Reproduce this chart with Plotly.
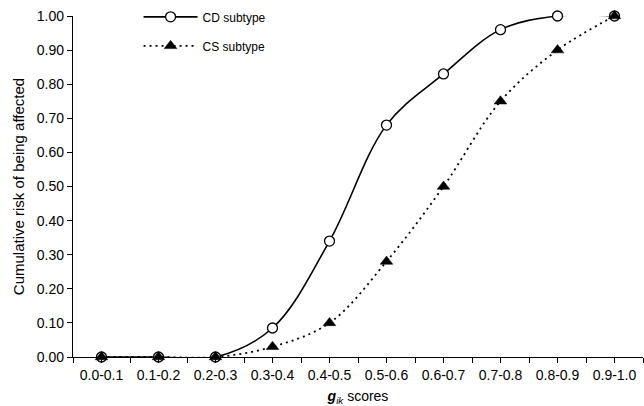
import plotly.graph_objects as go

categories = ["0.0-0.1", "0.1-0.2", "0.2-0.3", "0.3-0.4", "0.4-0.5",
              "0.5-0.6", "0.6-0.7", "0.7-0.8", "0.8-0.9", "0.9-1.0"]
cd_values = [0.0, 0.0, 0.0, 0.085, 0.34, 0.68, 0.83, 0.96, 1.0, 1.0]
cs_values = [0.0, 0.0, 0.0, 0.03, 0.10, 0.28, 0.50, 0.75, 0.90, 1.0]
y_ticks = [0.0, 0.1, 0.2, 0.3, 0.4, 0.5, 0.6, 0.7, 0.8, 0.9, 1.0]

FONT = "Liberation Sans, Arial, sans-serif"

positions = list(range(len(categories)))
# ticks at every half category: boundaries (unlabelled) and centres (labelled)
x_tickvals = []
x_ticktext = []
for i, c in enumerate(categories):
    x_tickvals += [i - 0.5, i]
    x_ticktext += ["", c]
x_tickvals.append(len(categories) - 0.5)
x_ticktext.append("")

fig = go.Figure()
fig.add_trace(go.Scatter(
    x=positions, y=cd_values, name="CD subtype", mode="lines+markers",
    line=dict(color="black", width=1.6, shape="spline", smoothing=1.0),
    marker=dict(symbol="circle", size=10, color="white",
                line=dict(color="black", width=1.3)),
    cliponaxis=False, legendgroup="cd"))
fig.add_trace(go.Scatter(
    x=positions, y=cs_values, name="CS subtype", mode="lines+markers",
    line=dict(color="black", width=1.8, dash="2px,4px", shape="spline", smoothing=1.0),
    marker=dict(symbol="triangle-up", size=11, color="black",
                line=dict(color="black", width=0.5)),
    cliponaxis=False, legendgroup="cs"))

fig.update_layout(
    width=644, height=406,
    margin=dict(l=73, r=1, t=16, b=49),
    paper_bgcolor="white", plot_bgcolor="white",
    font=dict(family=FONT, size=14, color="black"),
    showlegend=True,
    legend=dict(x=0.115, y=1.04, xanchor="left", yanchor="top",
                bgcolor="rgba(0,0,0,0)", font=dict(size=12),
                tracegroupgap=10, itemwidth=54),
    xaxis=dict(range=[-0.5, len(categories) - 0.5],
               tickmode="array", tickvals=x_tickvals, ticktext=x_ticktext,
               showline=True, linecolor="black", linewidth=1.3,
               ticks="outside", ticklen=5, tickcolor="black", tickwidth=1.3,
               showgrid=False, zeroline=False,
               tickfont=dict(size=14),
               title=dict(text="<b><i>g</i></b><sub><i>ik</i></sub> scores",
                          font=dict(size=14), standoff=10)),
    yaxis=dict(range=[0, 1.0], tickvals=y_ticks, tickformat=".2f",
               showline=True, linecolor="black", linewidth=1.3,
               ticks="outside", ticklen=5, tickcolor="black", tickwidth=1.3,
               showgrid=False, zeroline=False,
               tickfont=dict(size=14),
               title=dict(text="Cumulative risk of being affected",
                          font=dict(size=15), standoff=8)),
)

fig.write_html("out.html", post_script="document.body.style.margin='0';",
               config={"displayModeBar": False})
